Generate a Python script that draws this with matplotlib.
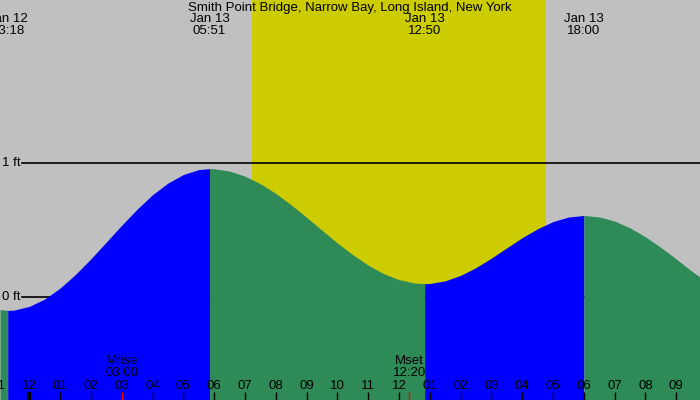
import matplotlib
matplotlib.use("Agg")
import matplotlib.pyplot as plt
import matplotlib.transforms as mtransforms

plt.rcParams['font.family'] = ['Liberation Sans', 'DejaVu Sans']

title = "Smith Point Bridge, Narrow Bay, Long Island, New York"

# tide curve (hours from midnight Jan 13, feet)
tide_hours = [-0.95, -0.7, -0.5, 0.0, 0.5, 1.0, 1.5, 2.0, 2.5, 3.0, 3.5, 4.0, 4.5, 5.0, 5.5, 5.85,
              6.0, 6.5, 7.0, 7.5, 8.0, 8.5, 9.0, 9.5, 10.0, 10.5, 11.0, 11.5, 12.0, 12.5, 12.833,
              13.0, 13.5, 14.0, 14.5, 15.0, 15.5, 16.0, 16.5, 17.0, 17.5, 18.0,
              18.5, 19.0, 19.5, 20.0, 20.5, 21.0, 21.5, 21.77]
tide_ft = [-0.094, -0.100, -0.098, -0.070, -0.015, 0.067, 0.169, 0.286, 0.411, 0.537, 0.657, 0.765, 0.852, 0.916, 0.953, 0.960,
           0.959, 0.942, 0.904, 0.847, 0.775, 0.689, 0.596, 0.499, 0.404, 0.316, 0.238, 0.175, 0.130, 0.105, 0.100,
           0.101, 0.121, 0.162, 0.220, 0.291, 0.368, 0.444, 0.511, 0.564, 0.598, 0.610,
           0.599, 0.568, 0.517, 0.450, 0.371, 0.284, 0.194, 0.150]

# extremes
ext_hours = [-0.7, 5.85, 12.833, 18.0]
ext_dates = ["Jan 12", "Jan 13", "Jan 13", "Jan 13"]
ext_times = ["23:18", "05:51", "12:50", "18:00"]

sunrise_h = 7.23
sunset_h = 16.76

moon_hours = [3.0, 12.333]
moon_names = ["Mrise", "Mset"]
moon_times = ["03:00", "12:20"]

tick_hours = list(range(-1, 22))
tick_labels = ["11", "12", "01", "02", "03", "04", "05", "06", "07", "08", "09", "10", "11",
               "12", "01", "02", "03", "04", "05", "06", "07", "08", "09"]

ft_levels = [0, 1]
ft_labels = ["0 ft", "1 ft"]

GRAY = "#C0C0C0"
YELLOW = "#CCCC00"
BLUE = "#0000FF"
GREEN = "#2E8B57"
FS = 9.5

fig = plt.figure(figsize=(7, 4), dpi=100)
fig.patch.set_facecolor(GRAY)
ax = fig.add_axes([0, 0, 1, 1])
ax.set_facecolor(GRAY)
x0, x1 = -0.951, 21.77
ax.set_xlim(x0, x1)
ax.set_ylim(-0.770, 2.221)
ax.axis("off")

ax.axvspan(sunrise_h, sunset_h, color=YELLOW, zorder=1, lw=0)

# horizontal ft lines
xstart = x0 + 22 / 30.81
for lv, lb in zip(ft_levels, ft_labels):
    ax.plot([xstart, x1], [lv, lv], color="black", lw=1.2, zorder=2)
    ax.text(x0 + 2 / 30.81, lv, lb, ha="left", va="center", fontsize=FS, zorder=5)

# fill segments between extremes
bounds = [tide_hours[0]] + ext_hours + [tide_hours[-1]]
for i in range(len(bounds) - 1):
    a, b = bounds[i], bounds[i + 1]
    idx = [k for k, h in enumerate(tide_hours) if a <= h <= b]
    xs = [tide_hours[k] for k in idx]
    ys = [tide_ft[k] for k in idx]
    rising = ys[-1] > ys[0]
    ax.fill_between(xs, ys, -1, color=BLUE if rising else GREEN, lw=0, zorder=3)

trans = mtransforms.blended_transform_factory(ax.transData, ax.transAxes)

# top labels
ax.text(0.5, 1 - 8 / 400, title, transform=ax.transAxes, ha="center", va="center", fontsize=FS, zorder=6)
for h, d, t in zip(ext_hours, ext_dates, ext_times):
    ax.text(h, 1 - 19 / 400, d, transform=trans, ha="center", va="center", fontsize=FS, zorder=6)
    ax.text(h, 1 - 31 / 400, t, transform=trans, ha="center", va="center", fontsize=FS, zorder=6)

# bottom ticks
for h, lb in zip(tick_hours, tick_labels):
    lw = 3 if h == 0 else 1
    ax.plot([h, h], [0, 8 / 400], color="black", lw=lw, transform=trans, zorder=6, solid_capstyle="butt")
    ax.text(h, 14 / 400, lb, transform=trans, ha="center", va="center", fontsize=FS, zorder=6)

for h, n, t in zip(moon_hours, moon_names, moon_times):
    ax.plot([h, h], [0, 8 / 400], color="red", lw=1, transform=trans, zorder=7, solid_capstyle="butt")
    ax.text(h, 39 / 400, n, transform=trans, ha="center", va="center", fontsize=FS, zorder=6)
    ax.text(h, 27 / 400, t, transform=trans, ha="center", va="center", fontsize=FS, zorder=6)

fig.savefig("out.png", dpi=100, facecolor=GRAY)
